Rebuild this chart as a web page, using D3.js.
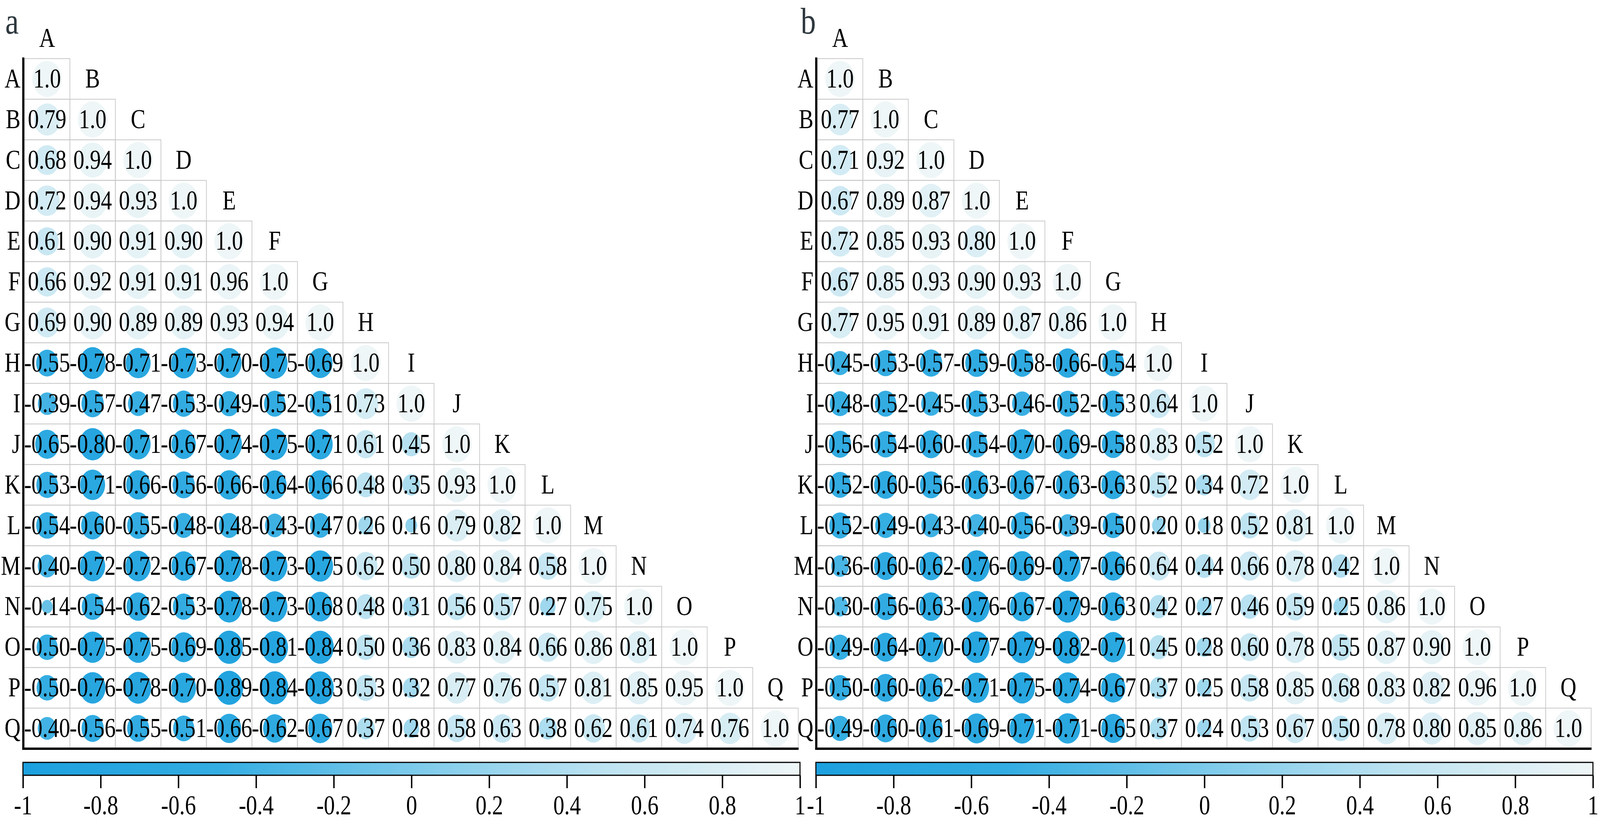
<!DOCTYPE html>
<html>
<head>
<meta charset="utf-8">
<script src="https://cdn.jsdelivr.net/npm/d3@7"></script>
<style>
  html, body { margin: 0; padding: 0; background: #fff; overflow: hidden; }
  #chart svg { display: block; width: 100vw; height: 100vh; }
  svg text { font-family: "Liberation Serif", "Times New Roman", Times, "DejaVu Serif", serif; }
</style>
</head>
<body>
<div id="chart"></div>
<script>
// ---------------------------------------------------------------------------
// data (lower triangle, row by row)
// ---------------------------------------------------------------------------
const labels = ["A", "B", "C", "D", "E", "F", "G", "H", "I", "J", "K", "L", "M", "N", "O", "P", "Q"];

const corrA = [
  [1.0],
  [0.79, 1.0],
  [0.68, 0.94, 1.0],
  [0.72, 0.94, 0.93, 1.0],
  [0.61, 0.90, 0.91, 0.90, 1.0],
  [0.66, 0.92, 0.91, 0.91, 0.96, 1.0],
  [0.69, 0.90, 0.89, 0.89, 0.93, 0.94, 1.0],
  [-0.55, -0.78, -0.71, -0.73, -0.70, -0.75, -0.69, 1.0],
  [-0.39, -0.57, -0.47, -0.53, -0.49, -0.52, -0.51, 0.73, 1.0],
  [-0.65, -0.80, -0.71, -0.67, -0.74, -0.75, -0.71, 0.61, 0.45, 1.0],
  [-0.53, -0.71, -0.66, -0.56, -0.66, -0.64, -0.66, 0.48, 0.35, 0.93, 1.0],
  [-0.54, -0.60, -0.55, -0.48, -0.48, -0.43, -0.47, 0.26, 0.16, 0.79, 0.82, 1.0],
  [-0.40, -0.72, -0.72, -0.67, -0.78, -0.73, -0.75, 0.62, 0.50, 0.80, 0.84, 0.58, 1.0],
  [-0.14, -0.54, -0.62, -0.53, -0.78, -0.73, -0.68, 0.48, 0.31, 0.56, 0.57, 0.27, 0.75, 1.0],
  [-0.50, -0.75, -0.75, -0.69, -0.85, -0.81, -0.84, 0.50, 0.36, 0.83, 0.84, 0.66, 0.86, 0.81, 1.0],
  [-0.50, -0.76, -0.78, -0.70, -0.89, -0.84, -0.83, 0.53, 0.32, 0.77, 0.76, 0.57, 0.81, 0.85, 0.95, 1.0],
  [-0.40, -0.56, -0.55, -0.51, -0.66, -0.62, -0.67, 0.37, 0.28, 0.58, 0.63, 0.38, 0.62, 0.61, 0.74, 0.76, 1.0]
];

const corrB = [
  [1.0],
  [0.77, 1.0],
  [0.71, 0.92, 1.0],
  [0.67, 0.89, 0.87, 1.0],
  [0.72, 0.85, 0.93, 0.80, 1.0],
  [0.67, 0.85, 0.93, 0.90, 0.93, 1.0],
  [0.77, 0.95, 0.91, 0.89, 0.87, 0.86, 1.0],
  [-0.45, -0.53, -0.57, -0.59, -0.58, -0.66, -0.54, 1.0],
  [-0.48, -0.52, -0.45, -0.53, -0.46, -0.52, -0.53, 0.64, 1.0],
  [-0.56, -0.54, -0.60, -0.54, -0.70, -0.69, -0.58, 0.83, 0.52, 1.0],
  [-0.52, -0.60, -0.56, -0.63, -0.67, -0.63, -0.63, 0.52, 0.34, 0.72, 1.0],
  [-0.52, -0.49, -0.43, -0.40, -0.56, -0.39, -0.50, 0.20, 0.18, 0.52, 0.81, 1.0],
  [-0.36, -0.60, -0.62, -0.76, -0.69, -0.77, -0.66, 0.64, 0.44, 0.66, 0.78, 0.42, 1.0],
  [-0.30, -0.56, -0.63, -0.76, -0.67, -0.79, -0.63, 0.42, 0.27, 0.46, 0.59, 0.25, 0.86, 1.0],
  [-0.49, -0.64, -0.70, -0.77, -0.79, -0.82, -0.71, 0.45, 0.28, 0.60, 0.78, 0.55, 0.87, 0.90, 1.0],
  [-0.50, -0.60, -0.62, -0.71, -0.75, -0.74, -0.67, 0.37, 0.25, 0.58, 0.85, 0.68, 0.83, 0.82, 0.96, 1.0],
  [-0.49, -0.60, -0.61, -0.69, -0.71, -0.71, -0.65, 0.37, 0.24, 0.53, 0.67, 0.50, 0.78, 0.80, 0.85, 0.86, 1.0]
];

const legendTicks = [-1, -0.8, -0.6, -0.4, -0.2, 0, 0.2, 0.4, 0.6, 0.8, 1];

// colour ramp: deep blue at -1, pale at +1
const colorStops = [-1, -0.5, 0, 0.5, 1];
const colorRange = ["#1ca0de", "#34ade2", "#7ccaeb", "#bde3f1", "#eff6f7"];

// ---------------------------------------------------------------------------
// layout (drawn in the reference's own pixel space, then fitted to the window)
// ---------------------------------------------------------------------------
const W = 4534, H = 2101;
const fontSize = 62.5;
const stretch = 1.1;      // the figure is a little taller than wide
const panelShift = 2247;  // horizontal offset of panel b
const serif = "'Liberation Serif', 'Times New Roman', Times, 'DejaVu Serif', serif";

const svg = d3.select('#chart')
    .append('svg')
    .attr('viewBox', `0 0 ${W} ${H}`)
    .attr('preserveAspectRatio', 'none');

const color = d3.scaleLinear().domain(colorStops).range(colorRange);
const radius = d3.scaleSqrt().domain([0, 1]).range([0, 42]);

const x = d3.scaleBand().domain(labels).range([69, 2262]);
const y = d3.scaleBand().domain(labels).range([150, 1916]);
const bar = d3.scaleLinear().domain([-1, 1]).range([65, 2267]);

const fmt = v => (v === 1 ? "1.0" : v.toFixed(2));

// gradient for the colour bar
const grad = svg.append('defs')
    .append('linearGradient')
    .attr('id', 'ramp')
    .attr('x1', '0%').attr('x2', '100%')
    .attr('y1', '0%').attr('y2', '0%');

grad.selectAll('stop')
    .data(d3.range(0, 21))
    .join('stop')
    .attr('offset', i => `${i * 5}%`)
    .attr('stop-color', i => color(-1 + i * 0.1));

function drawPanel(g, corr, letter, letterX) {
    const cells = corr.flatMap((row, i) => row.map((v, j) => ({ r: labels[i], c: labels[j], v })));
    const dx = x.bandwidth(), dy = y.bandwidth();

    // panel letter
    g.append('text')
        .attr('font-family', serif)
        .style('font-size', '86px')
        .attr('fill', '#2e383e')
        .attr('transform', `translate(${letterX},86) scale(1,${stretch})`)
        .text(letter);

    // grid cells
    g.selectAll('rect.cell')
        .data(cells)
        .join('rect')
        .attr('class', 'cell')
        .attr('x', d => x(d.c))
        .attr('y', d => y(d.r))
        .attr('width', dx)
        .attr('height', dy)
        .attr('fill', 'none')
        .attr('stroke', '#c8c8c8')
        .attr('stroke-width', 2);

    // bubbles
    g.selectAll('ellipse')
        .data(cells)
        .join('ellipse')
        .attr('cx', d => x(d.c) + dx / 2)
        .attr('cy', d => y(d.r) + dy / 2)
        .attr('rx', d => radius(Math.abs(d.v)))
        .attr('ry', d => radius(Math.abs(d.v)) * stretch)
        .attr('fill', d => color(d.v));

    // values
    g.selectAll('text.val')
        .data(cells)
        .join('text')
        .attr('class', 'val')
        .attr('font-family', serif)
        .attr('text-anchor', 'middle')
        .style('font-size', fontSize + 'px')
        .attr('transform', d => `translate(${x(d.c) + dx / 2},${y(d.r) + dy / 2 + 22}) scale(1,${stretch})`)
        .text(d => fmt(d.v));

    // row labels
    g.selectAll('text.rowlab')
        .data(labels)
        .join('text')
        .attr('class', 'rowlab')
        .attr('font-family', serif)
        .attr('text-anchor', 'end')
        .style('font-size', fontSize + 'px')
        .attr('transform', d => `translate(58,${y(d) + dy / 2 + 22}) scale(1,${stretch})`)
        .text(d => d);

    // column labels sit just above the diagonal
    g.selectAll('text.collab')
        .data(labels)
        .join('text')
        .attr('class', 'collab')
        .attr('font-family', serif)
        .attr('text-anchor', 'middle')
        .style('font-size', fontSize + 'px')
        .attr('transform', d => `translate(${x(d) + dx / 2},${y(d) - dy / 2 + 22}) scale(1,${stretch})`)
        .text(d => d);

    // axis lines (left and bottom)
    g.append('line')
        .attr('x1', 66).attr('x2', 66)
        .attr('y1', 147).attr('y2', 1919)
        .attr('stroke', '#000')
        .attr('stroke-width', 6);

    g.append('line')
        .attr('x1', 63).attr('x2', 2263)
        .attr('y1', 1916).attr('y2', 1916)
        .attr('stroke', '#000')
        .attr('stroke-width', 6);

    // colour bar
    g.append('rect')
        .attr('x', bar(-1))
        .attr('y', 1951)
        .attr('width', bar(1) - bar(-1))
        .attr('height', 33)
        .attr('fill', 'url(#ramp)')
        .attr('stroke', '#000')
        .attr('stroke-width', 3);

    const axis = g.append('g')
        .attr('transform', 'translate(0,1984)')
        .call(d3.axisBottom(bar)
            .tickValues(legendTicks)
            .tickSize(33)
            .tickSizeOuter(0)
            .tickFormat(d => String(d)));

    axis.select('.domain').remove();
    axis.attr('font-family', serif).attr('font-size', null);
    axis.selectAll('.tick line')
        .attr('stroke', '#000')
        .attr('stroke-width', 4);
    axis.selectAll('.tick text')
        .attr('y', null)
        .attr('dy', null)
        .attr('fill', '#000')
        .attr('font-family', serif)
        .style('font-size', fontSize + 'px')
        .attr('transform', `translate(0,100) scale(1,${stretch})`);
}

drawPanel(svg.append('g'), corrA, 'a', 15);
drawPanel(svg.append('g').attr('transform', `translate(${panelShift},0)`), corrB, 'b', 22);
</script>
</body>
</html>
